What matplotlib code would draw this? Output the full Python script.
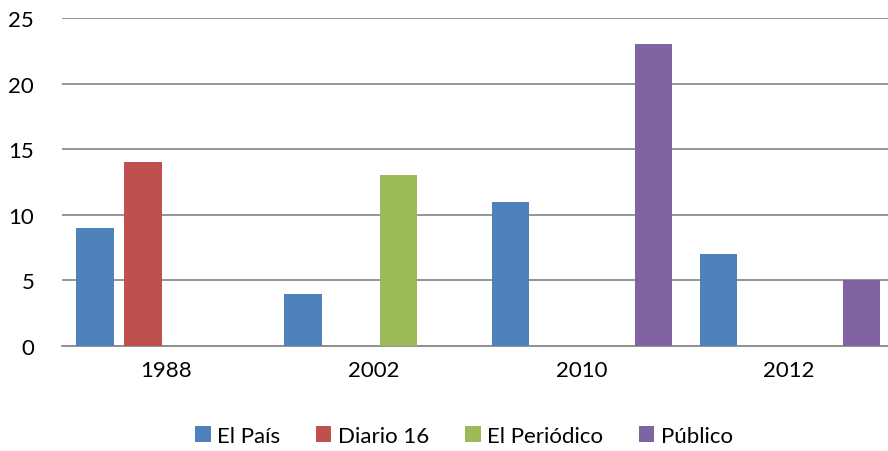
import matplotlib
matplotlib.use("Agg")
import matplotlib.pyplot as plt
import numpy as np

years = ["1988", "2002", "2010", "2012"]
series = ["El País", "Diario 16", "El Periódico", "Público"]
el_pais = [9, 4, 11, 7]
diario16 = [14, 0, 0, 0]
el_periodico = [0, 13, 0, 0]
publico = [0, 0, 23, 5]
yticks = [0, 5, 10, 15, 20, 25]

colors = ["#4F81BD", "#C0504D", "#9BBB59", "#8064A2"]
values = [el_pais, diario16, el_periodico, publico]

plt.rcParams['font.family'] = ['Lato', 'DejaVu Sans']
fig = plt.figure(figsize=(8.88, 4.52), dpi=100)
ax = fig.add_axes([62/888, 1-347/452, 831/888, (347-19)/452])

x = np.arange(len(years))
step = 0.2295
width = 0.18
for i, (name, vals, c) in enumerate(zip(series, values, colors)):
    ax.bar(x + (i - 1.5) * step + 0.004, vals, width=width, color=c, label=name, zorder=3)

ax.set_xlim(-0.5, 3.5)
ax.set_ylim(0, 25)
ax.set_yticks(yticks)
ax.set_xticks(x)
ax.set_xticklabels(years)
ax.yaxis.grid(True, color="#8c8c8c", linewidth=1.3, zorder=0)
for s in ["top", "right", "left"]:
    ax.spines[s].set_visible(False)
ax.spines["bottom"].set_color("#8c8c8c")
ax.spines["bottom"].set_linewidth(1.3)
ax.tick_params(axis="both", length=0, labelsize=16, colors="black")
ax.tick_params(axis="y", pad=20)
ax.tick_params(axis="x", pad=10)

leg = fig.legend(loc="center", bbox_to_anchor=(464/888, 1-437/452), ncol=4, frameon=False,
                 fontsize=16, handlelength=0.7, handleheight=0.7, handletextpad=0.3,
                 columnspacing=1.6)

fig.savefig("out.png", dpi=100)
